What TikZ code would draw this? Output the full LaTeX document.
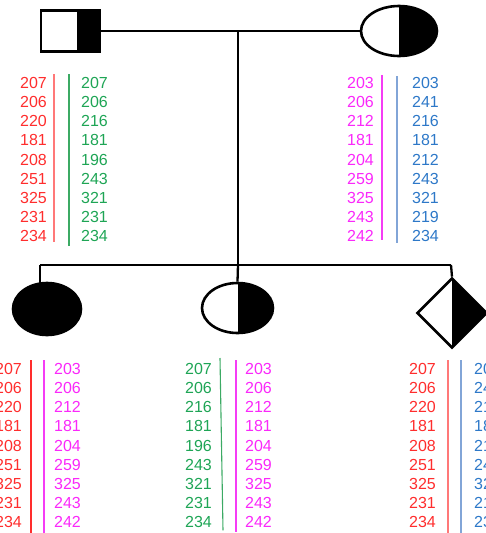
\documentclass[tikz,border=0pt]{standalone}
\usepackage{fontspec}
\setmainfont{Liberation Sans}
\usetikzlibrary{shapes.geometric, positioning}
\definecolor{allred}{RGB}{255,45,45}
\definecolor{allgreen}{RGB}{30,165,85}
\definecolor{allmag}{RGB}{250,40,250}
\definecolor{allblue}{RGB}{45,120,200}
\definecolor{sepred}{RGB}{255,120,120}
\definecolor{sepgreen}{RGB}{60,170,100}
\definecolor{sepmag}{RGB}{245,60,245}
\definecolor{sepblue}{RGB}{130,165,215}

\begin{document}
\begin{tikzpicture}[
    x=1pt, y=-1pt,
    person/.style={draw=black, line width=2.6pt, inner sep=0pt},
    male/.style={person, rectangle, minimum width=59pt, minimum height=41pt,
        path picture={\fill ([xshift=6.5pt]path picture bounding box.north)
            rectangle (path picture bounding box.south east);}},
    female/.style={person, ellipse, minimum width=76pt, minimum height=50pt},
    halffill/.style={path picture={\fill (path picture bounding box.north)
            rectangle (path picture bounding box.south east);}},
    unknown/.style={person, diamond, aspect=1, minimum width=70pt, minimum height=70pt},
    line/.style={line width=2.3pt, black},
    alleles/.style={inner sep=0pt, font=\fontsize{16}{19.2}\selectfont},
    sep/.style={line width=1.1pt}
]
\useasboundingbox (0,0) rectangle (486,533);

% parents
\node[male] (father) at (70.5,31) {};
\node[female, halffill] (mother) at (399,31) {};
\draw[line] (father.east) -- (mother.west);

% children
\node[female, fill=black, minimum width=68pt, minimum height=52pt] (child1) at (47,309) {};
\node[female, halffill, minimum width=71pt] (child2) at (237.5,308) {};
\node[unknown, halffill] (child3) at (452,313) {};

\coordinate (mid) at (238,31);
\coordinate (sib) at (238,265);
\coordinate (sibL) at (40,265);
\coordinate (sibR) at (451,265);
\draw[line] (mid) -- (sib);
\draw[line] (sibL) -- (sibR);
\draw[line] (sibL) -- ([yshift=-4pt]sibL |- child1.north);
\draw[line] (sib) -- (child2.north);
\draw[line] (sibR) -- (child3.north);

% father alleles
\node[alleles, allred, align=right, anchor=north east] (fr) at (47,77)
    {207\\206\\220\\181\\208\\251\\325\\231\\234};
\node[alleles, allgreen, align=left, anchor=north west] (fg) at (81,77)
    {207\\206\\216\\181\\196\\243\\321\\231\\234};
\draw[sep, sepred] ([xshift=7pt, yshift=3pt]fr.north east) -- ([xshift=7pt]fr.south east);
\draw[sep, sepgreen] ([xshift=-12pt, yshift=3pt]fg.north west) -- ([xshift=-12pt, yshift=-4pt]fg.south west);

% mother alleles
\node[alleles, allmag, align=right, anchor=north east] (mm) at (374,77)
    {203\\206\\212\\181\\204\\259\\325\\243\\242};
\node[alleles, allblue, align=left, anchor=north west] (mb) at (412,77)
    {203\\241\\216\\181\\212\\243\\321\\219\\234};
\draw[sep, sepmag] ([xshift=8pt, yshift=2pt]mm.north east) -- ([xshift=8pt, yshift=2pt]mm.south east);
\draw[sep, sepblue] ([xshift=-15pt, yshift=1pt]mb.north west) -- ([xshift=-15pt, yshift=-1pt]mb.south west);

% child 1 alleles
\node[alleles, allred, align=right, anchor=north east] (c1r) at (22,363)
    {207\\206\\220\\181\\208\\251\\325\\231\\234};
\node[alleles, allmag, align=left, anchor=north west] (c1m) at (54,363)
    {203\\206\\212\\181\\204\\259\\325\\243\\242};
\draw[sep, allred] ([xshift=9pt, yshift=3pt]c1r.north east) -- ([xshift=9pt, yshift=-6pt]c1r.south east);
\draw[sep, sepmag] ([xshift=-10pt, yshift=3pt]c1m.north west) -- ([xshift=-10pt, yshift=-6pt]c1m.south west);

% child 2 alleles
\node[alleles, allgreen, align=right, anchor=north east] (c2g) at (212,363)
    {207\\206\\216\\181\\196\\243\\321\\231\\234};
\node[alleles, allmag, align=left, anchor=north west] (c2m) at (245,363)
    {203\\206\\212\\181\\204\\259\\325\\243\\242};
\draw[sep, sepgreen] ([xshift=8pt, yshift=5pt]c2g.north east) -- ([xshift=11pt, yshift=-2pt]c2g.south east);
\draw[sep, sepmag] ([xshift=-9pt, yshift=3pt]c2m.north west) -- ([xshift=-9pt, yshift=-4pt]c2m.south west);

% child 3 alleles
\node[alleles, allred, align=right, anchor=north east] (c3r) at (436,363)
    {207\\206\\220\\181\\208\\251\\325\\231\\234};
\node[alleles, allblue, align=left, anchor=north west] (c3b) at (474,363)
    {203\\241\\216\\181\\212\\243\\321\\219\\234};
\draw[sep, sepred] ([xshift=12pt, yshift=3pt]c3r.north east) -- ([xshift=12pt, yshift=-6pt]c3r.south east);
\draw[sep, sepblue] ([xshift=-13pt, yshift=3pt]c3b.north west) -- ([xshift=-13pt, yshift=-6pt]c3b.south west);
\end{tikzpicture}
\end{document}
